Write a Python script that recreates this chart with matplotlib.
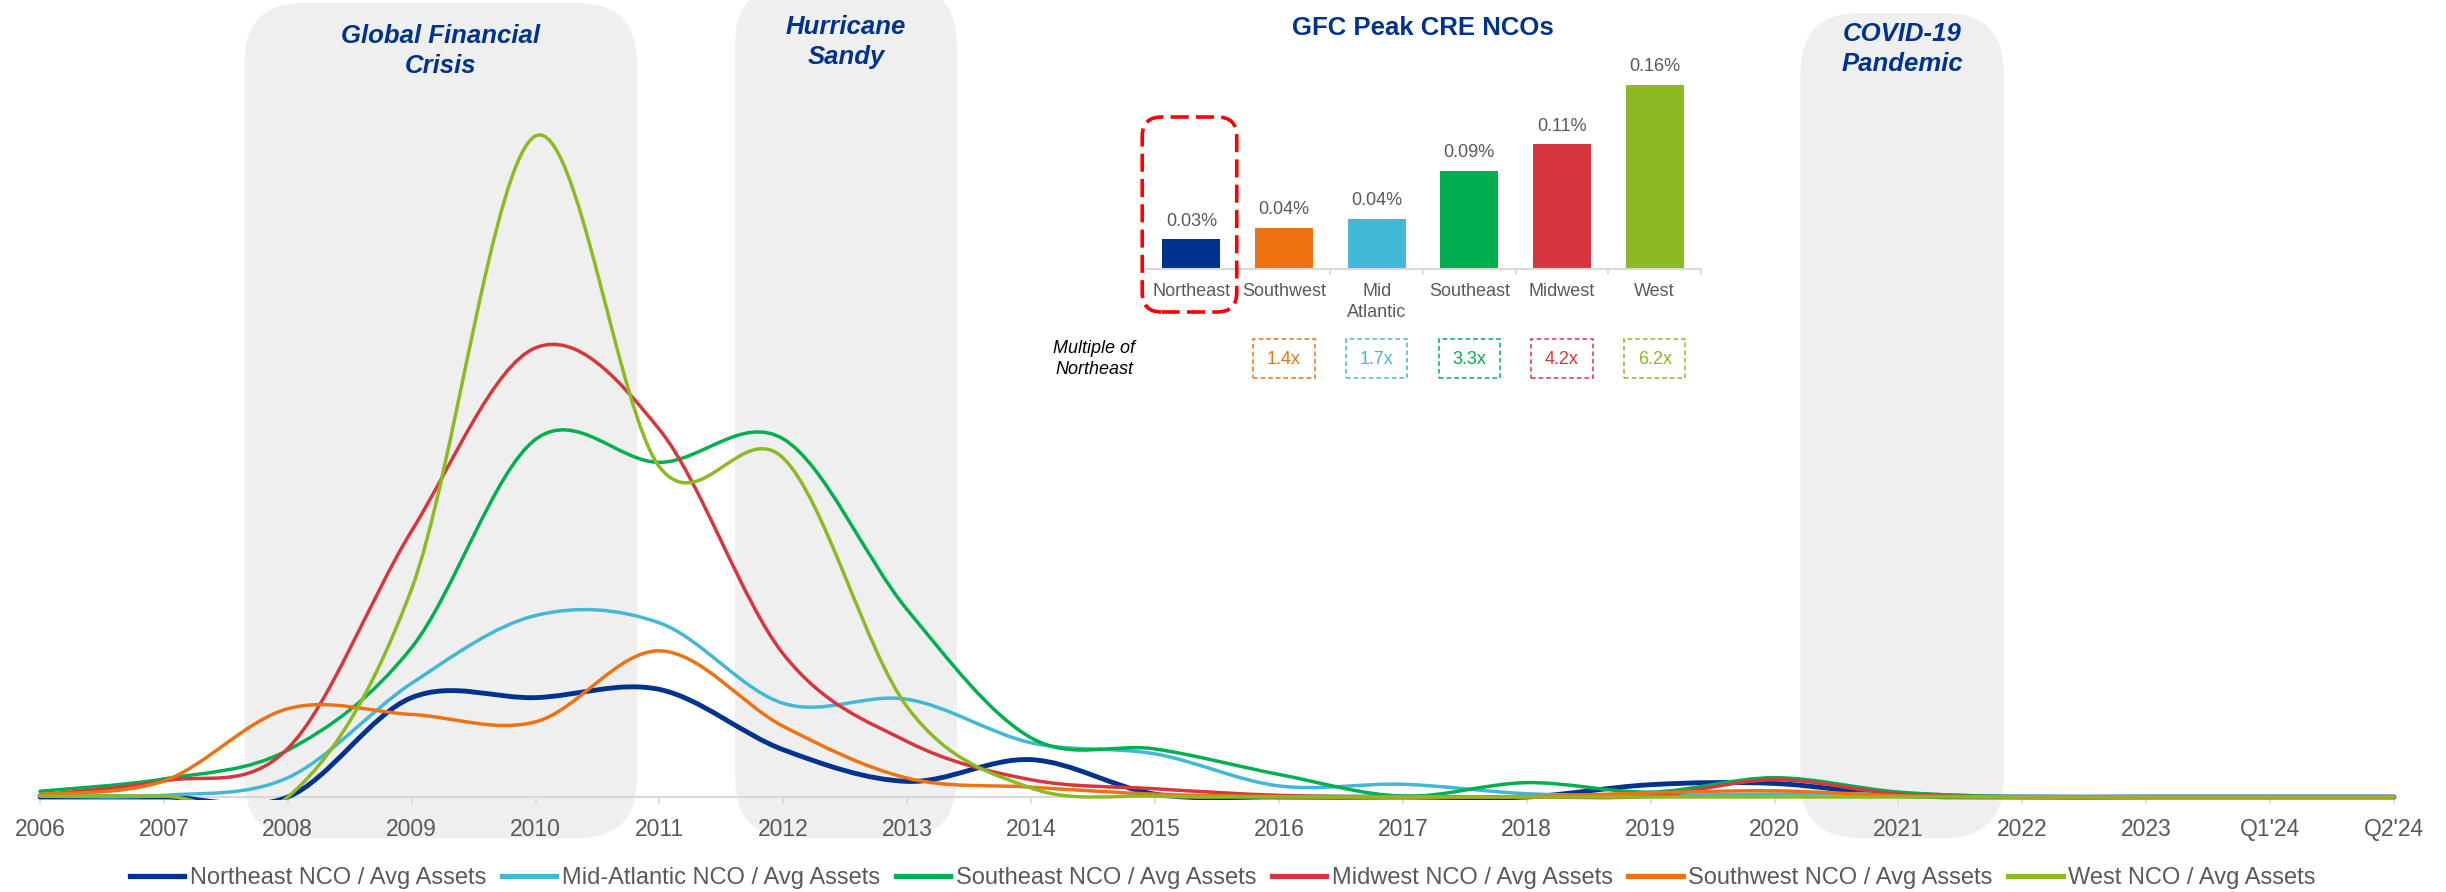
"""Regional CRE net charge-offs (NCO / avg assets) with a GFC peak inset."""

import matplotlib

matplotlib.use("Agg")

import matplotlib.pyplot as plt
from matplotlib.lines import Line2D
from matplotlib.patches import FancyBboxPatch, PathPatch, Rectangle
from matplotlib.path import Path

plt.rcParams["font.family"] = ["Liberation Sans", "DejaVu Sans"]

# Data (values in percent of average assets).
CATEGORIES = [
    "2006", "2007", "2008", "2009", "2010", "2011", "2012", "2013", "2014", "2015",
    "2016", "2017", "2018", "2019", "2020", "2021", "2022", "2023", "Q1'24", "Q2'24",
]
NORTHEAST = [0.0000, 0.0000, 0.0000, 0.0242, 0.0242, 0.0262, 0.0115, 0.0038, 0.0091, 0.0007,
             0.0000, 0.0000, 0.0000, 0.0030, 0.0033, 0.0004, 0.0000, 0.0000, 0.0000, 0.0000]
MID_ATLANTIC = [0.0002, 0.0004, 0.0047, 0.0277, 0.0442, 0.0424, 0.0228, 0.0238, 0.0132, 0.0105,
                0.0027, 0.0031, 0.0008, 0.0004, 0.0007, 0.0008, 0.0000, 0.0000, 0.0000, 0.0000]
SOUTHEAST = [0.0014, 0.0044, 0.0114, 0.0364, 0.0871, 0.0815, 0.0872, 0.0456, 0.0144, 0.0117,
             0.0055, 0.0002, 0.0035, 0.0012, 0.0047, 0.0012, 0.0000, 0.0000, 0.0000, 0.0000]
MIDWEST = [0.0005, 0.0039, 0.0118, 0.0648, 0.1094, 0.0895, 0.0348, 0.0135, 0.0042, 0.0020,
           0.0004, 0.0000, 0.0000, 0.0002, 0.0042, 0.0007, 0.0000, 0.0000, 0.0000, 0.0000]
SOUTHWEST = [0.0006, 0.0039, 0.0215, 0.0201, 0.0183, 0.0356, 0.0172, 0.0046, 0.0024, 0.0007,
             0.0001, 0.0000, 0.0001, 0.0010, 0.0015, 0.0003, 0.0000, 0.0000, 0.0000, 0.0000]
WEST = [0.0002, 0.0002, 0.0000, 0.0507, 0.1610, 0.0804, 0.0825, 0.0219, 0.0022, 0.0002,
        0.0000, 0.0000, 0.0000, 0.0000, 0.0000, 0.0000, 0.0000, 0.0000, 0.0000, 0.0000]

SERIES = [NORTHEAST, MID_ATLANTIC, SOUTHEAST, MIDWEST, SOUTHWEST, WEST]
SERIES_NAMES = ["Northeast", "Mid-Atlantic", "Southeast", "Midwest", "Southwest", "West"]

PEAK_REGIONS = ["Northeast", "Southwest", "Mid\nAtlantic", "Southeast", "Midwest", "West"]
PEAK_VALUES = [0.026, 0.036, 0.044, 0.086, 0.109, 0.161]
MULTIPLES = [1.4, 1.7, 3.3, 4.2, 6.2]

EVENT_LABELS = ["Global Financial\nCrisis", "Hurricane\nSandy", "COVID-19\nPandemic"]

# Styling.
NAVY = "#00338D"
COLORS = {
    "Northeast": "#00338D",
    "Mid-Atlantic": "#41B8D5",
    "Southeast": "#00B050",
    "Midwest": "#D6373E",
    "Southwest": "#EF7212",
    "West": "#8DBA22",
}
PEAK_COLORS = [COLORS[k] for k in ["Northeast", "Southwest", "Mid-Atlantic", "Southeast", "Midwest", "West"]]
GREY_TEXT = "#595959"
AXIS_GREY = "#D9D9D9"
SHADE = "#EFEFEF"

FIG_W, FIG_H = 2446, 892
STEP_PX = 124.0  # pixels between categories
PX_PER_PCT = 4106.0  # pixels per 1% on the main chart
BASELINE_PX = 797  # baseline, pixels from top

# Event spans in category units and box tops in px from figure top.
EVENT_SPANS = [(1.65, 4.82, 3), (5.61, 7.40, -15), (14.21, 15.85, 13)]
EVENT_TEXT_PX = [51, 42, 49]


def y_at(px_from_top: float) -> float:
    return (BASELINE_PX - px_from_top) / PX_PER_PCT


def smooth_path(values: list[float]) -> Path:
    """Catmull-Rom style bezier through the points (Excel smoothed line)."""
    pts = list(enumerate(values))
    n = len(pts)
    verts = [pts[0]]
    codes = [Path.MOVETO]
    for i in range(n - 1):
        x0, y0 = pts[max(i - 1, 0)]
        x1, y1 = pts[i]
        x2, y2 = pts[i + 1]
        x3, y3 = pts[min(i + 2, n - 1)]
        verts += [
            (x1 + (x2 - x0) / 6, y1 + (y2 - y0) / 6),
            (x2 - (x3 - x1) / 6, y2 - (y3 - y1) / 6),
            (x2, y2),
        ]
        codes += [Path.CURVE4] * 3
    return Path(verts, codes)


fig = plt.figure(figsize=(FIG_W / 100, FIG_H / 100), dpi=100)

# Main chart.
ax = fig.add_axes([0, (FIG_H - 800) / FIG_H, 1, 800 / FIG_H])
n = len(CATEGORIES)
ax.set_xlim(-40 / STEP_PX, n - 1 + 52 / STEP_PX)
ax.set_ylim(y_at(800), y_at(0))
ax.patch.set_visible(False)
for side in ["top", "left", "right"]:
    ax.spines[side].set_visible(False)
ax.spines["bottom"].set_position(("data", 0))
ax.spines["bottom"].set_bounds(0, n - 1)
ax.spines["bottom"].set_color(AXIS_GREY)
ax.spines["bottom"].set_linewidth(1.5)
ax.set_yticks([])
ax.set_xticks(range(n), CATEGORIES)
ax.tick_params(axis="x", length=5, width=1.2, color=AXIS_GREY, labelsize=16.5,
               labelcolor=GREY_TEXT, pad=10)

aspect = STEP_PX / PX_PER_PCT
for (x0, x1, top_px), label, text_px in zip(EVENT_SPANS, EVENT_LABELS, EVENT_TEXT_PX):
    y0, y1 = y_at(838), y_at(top_px)
    ax.add_patch(FancyBboxPatch((x0, y0), x1 - x0, y1 - y0,
                                boxstyle="round,pad=0,rounding_size=0.48",
                                mutation_aspect=aspect, fc=SHADE, ec="none",
                                zorder=0, clip_on=False))
    ax.text((x0 + x1) / 2, y_at(text_px), label, ha="center", va="center",
            fontsize=18.5, fontweight="bold", style="italic", color=NAVY,
            linespacing=1.3, zorder=4)

for name, values in zip(SERIES_NAMES, SERIES):
    lw = 3.5 if name == "Northeast" else 2.5
    ax.add_patch(PathPatch(smooth_path(values), fill=False, ec=COLORS[name], lw=lw,
                           capstyle="round", joinstyle="round", zorder=3))

handles = [Line2D([], [], color=COLORS[name], lw=3.8) for name in SERIES_NAMES]
labels = [f"{name} NCO / Avg Assets" for name in SERIES_NAMES]
fig.legend(handles, labels, loc="center", bbox_to_anchor=(0.5, 14 / FIG_H), ncol=6,
           frameon=False, fontsize=17, labelcolor=GREY_TEXT, handlelength=2.3,
           handletextpad=0.25, columnspacing=0.65, borderaxespad=0)

# Inset: GFC peak CRE NCOs.
IN_STEP = 92.7
IN_PCT_PER_PX = 0.161 / 184
ax_in = fig.add_axes([1145 / FIG_W, (FIG_H - 269) / FIG_H, 556 / FIG_W, 209 / FIG_H])
ax_in.set_xlim(-0.5, len(PEAK_VALUES) - 0.5)
ax_in.set_ylim(0, 209 * IN_PCT_PER_PX)
ax_in.patch.set_visible(False)
for side in ["top", "left", "right"]:
    ax_in.spines[side].set_visible(False)
ax_in.spines["bottom"].set_color(AXIS_GREY)
ax_in.spines["bottom"].set_linewidth(1.5)
ax_in.set_yticks([])
ax_in.set_xticks(range(len(PEAK_REGIONS)), PEAK_REGIONS)
ax_in.set_xticks([i - 0.5 for i in range(len(PEAK_REGIONS) + 1)], minor=True)
ax_in.tick_params(axis="x", which="major", length=0, pad=10, labelsize=13, labelcolor=GREY_TEXT)
ax_in.tick_params(axis="x", which="minor", length=4, width=1.2, color=AXIS_GREY)
for lbl in ax_in.get_xticklabels():
    lbl.set_linespacing(1.3)

ax_in.bar(range(len(PEAK_VALUES)), PEAK_VALUES, width=0.626, color=PEAK_COLORS)
for i, v in enumerate(PEAK_VALUES):
    ax_in.annotate(f"{v:.2f}%", (i, v), xytext=(0, 7), textcoords="offset points",
                   ha="center", va="bottom", fontsize=13, color=GREY_TEXT)

ax_in.text(0.5, 1 + 32 / 209, "GFC Peak CRE NCOs", transform=ax_in.transAxes,
           ha="center", va="center", fontsize=18.5, fontweight="bold", color=NAVY)

in_aspect = IN_PCT_PER_PX * IN_STEP
ax_in.add_patch(FancyBboxPatch((-0.53, -43 * IN_PCT_PER_PX), 1.02, 195 * IN_PCT_PER_PX,
                               boxstyle="round,pad=0,rounding_size=0.21",
                               mutation_aspect=in_aspect, fill=False, ec="#FF0000",
                               lw=2.6, ls=(0, (5, 2)), clip_on=False, zorder=4))

ax_in.text(-1.05, -90 * IN_PCT_PER_PX, "Multiple of\nNortheast", ha="center", va="center",
           fontsize=13, style="italic", color="black", linespacing=1.3)
for k, m in enumerate(MULTIPLES, start=1):
    c = PEAK_COLORS[k]
    ax_in.add_patch(Rectangle((k - 0.33, -109 * IN_PCT_PER_PX), 0.66, 39 * IN_PCT_PER_PX,
                              fill=False, ec=c, lw=1.1, ls=(0, (3, 2)), clip_on=False))
    ax_in.text(k, -90 * IN_PCT_PER_PX, f"{m:.1f}x", ha="center", va="center",
               fontsize=13, color=c)

fig.savefig("out.png", dpi=100)
